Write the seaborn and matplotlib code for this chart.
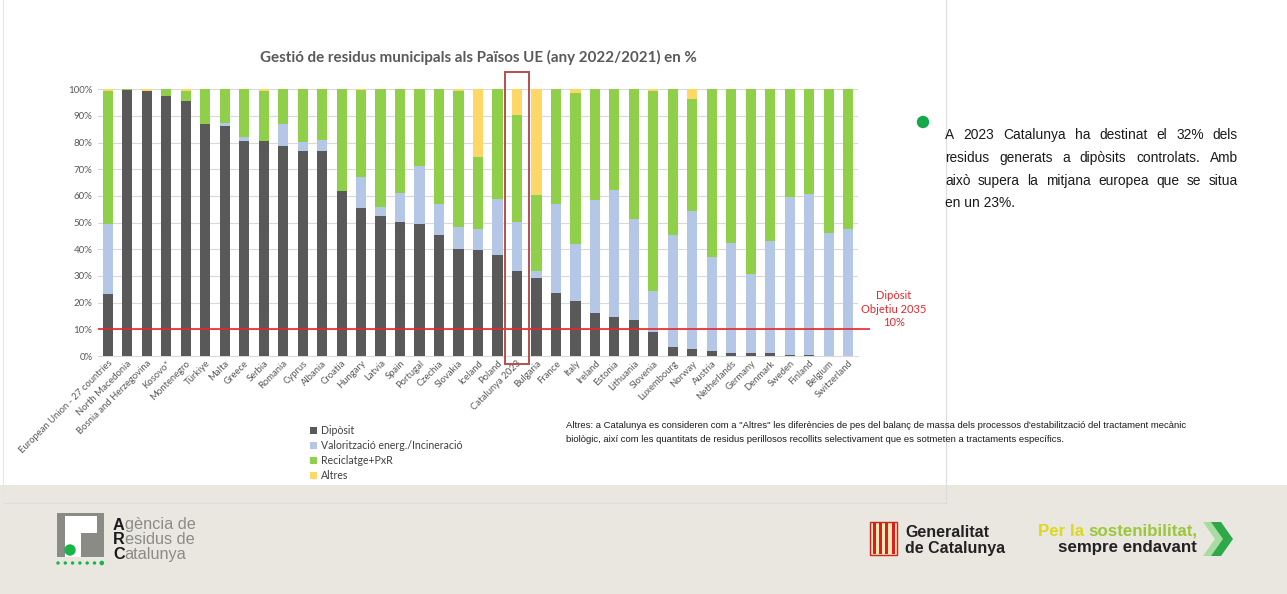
import matplotlib
matplotlib.use("Agg")
import matplotlib.pyplot as plt
from matplotlib.patches import Rectangle, Circle, Polygon
import pandas as pd
import seaborn as sns

# ---------------------------------------------------------------- data
countries = [
    "European Union - 27 countries", "North Macedonia", "Bosnia and Herzegovina",
    "Kosovo*", "Montenegro", "Türkiye", "Malta", "Greece", "Serbia", "Romania",
    "Cyprus", "Albania", "Croatia", "Hungary", "Latvia", "Spain", "Portugal",
    "Czechia", "Slovakia", "Iceland", "Poland", "Catalunya 2023", "Bulgaria",
    "France", "Italy", "Ireland", "Estonia", "Lithuania", "Slovenia",
    "Luxembourg", "Norway", "Austria", "Netherlands", "Germany", "Denmark",
    "Sweden", "Finland", "Belgium", "Switzerland",
]
diposit = [23.4, 99.9, 99.3, 97.5, 95.5, 86.9, 86.1, 80.8, 80.6, 78.9,
           77.0, 76.8, 61.8, 55.4, 52.4, 50.3, 49.4, 45.4, 40.3, 39.6,
           37.9, 32.0, 29.1, 23.8, 20.8, 16.0, 14.6, 13.5, 9.0, 3.4,
           2.8, 1.8, 1.0, 1.0, 1.0, 0.5, 0.3, 0.1, 0.0]
valoritzacio = [26.1, 0.0, 0.0, 0.0, 0.0, 0.0, 1.3, 1.4, 0.0, 8.0,
                3.3, 4.3, 0.0, 11.8, 3.5, 11.0, 22.0, 11.7, 8.1, 8.1,
                21.1, 18.1, 2.6, 33.1, 21.2, 42.5, 47.8, 37.8, 15.3, 42.0,
                51.5, 35.3, 41.3, 29.8, 42.1, 59.1, 60.5, 46.2, 47.6]
reciclatge = [49.7, 0.1, 0.0, 2.5, 4.0, 13.1, 12.6, 17.8, 18.8, 13.1,
              19.7, 18.9, 38.2, 32.6, 44.1, 38.7, 28.6, 42.9, 50.8, 26.8,
              41.0, 40.3, 28.5, 43.1, 56.8, 41.5, 37.6, 48.7, 75.0, 54.6,
              42.0, 62.9, 57.7, 69.2, 56.9, 40.4, 39.2, 53.7, 52.4]
altres = [0.8, 0.0, 0.7, 0.0, 0.5, 0.0, 0.0, 0.0, 0.6, 0.0,
          0.0, 0.0, 0.0, 0.2, 0.0, 0.0, 0.0, 0.0, 0.8, 25.5,
          0.0, 9.6, 39.8, 0.0, 1.2, 0.0, 0.0, 0.0, 0.7, 0.0,
          3.7, 0.0, 0.0, 0.0, 0.0, 0.0, 0.0, 0.0, 0.0]

series_names = ["Dipòsit", "Valorització energ./Incineració", "Reciclatge+PxR", "Altres"]
series_colors = ["#595959", "#b4c7e7", "#8fcf4a", "#ffd766"]
objective = 10
highlight = "Catalunya 2023"

title = "Gestió de residus municipals als Països UE (any 2022/2021) en %"
note_lines = [
    "Altres: a Catalunya es consideren com a \"Altres\" les diferències de pes del balanç de massa "
    "dels processos d'estabilització del tractament mecànic",
    "biològic, així com les quantitats de residus perillosos recollits selectivament que es "
    "sotmeten a tractaments específics.",
]
side_lines = [
    "A 2023 Catalunya ha destinat el 32% dels",
    "residus generats a dipòsits controlats. Amb",
    "això supera la mitjana europea que se situa",
    "en un 23%.",
]

df = pd.DataFrame({"country": countries, "d": diposit, "v": valoritzacio,
                   "r": reciclatge, "a": altres})

# ---------------------------------------------------------------- figure
W, H = 1287, 594
fig = plt.figure(figsize=(W / 100, H / 100), dpi=100)
fig.patch.set_facecolor("white")

# pixel-space canvas for page decoration
bg = fig.add_axes([0, 0, 1, 1], zorder=0)
bg.set_xlim(0, W)
bg.set_ylim(H, 0)
bg.axis("off")

bg.add_patch(Rectangle((0, 485), W, H - 485, facecolor="#e9e7e0", edgecolor="none"))
bg.plot([946, 946], [0, 503], color="#dcdcdc", lw=0.8)
bg.plot([3, 946], [503, 503], color="#dcdcdc", lw=0.8)
bg.plot([3, 3], [0, 503], color="#e6e6e6", lw=0.8)

# ---------------------------------------------------------------- chart
left, right, top, bottom = 98, 858, 89.3, 356
ax = fig.add_axes([left / W, 1 - bottom / H, (right - left) / W, (bottom - top) / H], zorder=2)
ax.patch.set_alpha(0)

cum = [0] * len(countries)
stacks = []
for vals in [diposit, valoritzacio, reciclatge, altres]:
    cum = [c + v for c, v in zip(cum, vals)]
    stacks.append(list(cum))

# draw tallest stack first so each lower segment sits on top of it
for name, col, tot in reversed(list(zip(series_names, series_colors, stacks))):
    sns.barplot(x=countries, y=tot, color=col, width=0.52, ax=ax, label=name,
                saturation=1, linewidth=0, zorder=3)

ax.set_ylim(0, 100)
ax.set_xlim(-0.5, len(countries) - 0.5)
ax.set_yticks(range(0, 101, 10))
ax.set_yticklabels([f"{t}%" for t in range(0, 101, 10)])
for t in range(10, 101, 10):
    ax.axhline(t, color="#d9d9d9", lw=0.8, zorder=1)
sns.despine(ax=ax, left=True, top=True, right=True)
ax.spines["bottom"].set_color("#d9d9d9")
ax.tick_params(axis="both", length=0, labelsize=7, labelcolor="#595959")
ax.tick_params(axis="y", pad=4)
ax.tick_params(axis="x", pad=2)
ax.set_xticks(range(len(countries)))
ax.set_xticklabels(countries, rotation=45, ha="right", rotation_mode="anchor",
                   family="Lato", fontsize=6.8)
for lab in ax.get_yticklabels():
    lab.set_family("Lato")
ax.set_xlabel("")
ax.set_ylabel("")
if ax.get_legend():
    ax.get_legend().remove()

# objective line
ax.hlines(objective, -0.5, 39.1, color="#e8262b", lw=1.2, zorder=4, clip_on=False)
ax.text(40.34, 17.6, "Dipòsit\nObjetiu 2035\n10%", color="#e8262b", fontsize=8,
        family="Lato", ha="center", va="center", linespacing=1.3, clip_on=False)

# highlight frame
hi = countries.index(highlight)
ax.add_patch(Rectangle((hi - 0.6, -3.0), 1.2, 109.5, fill=False, edgecolor="#b5504c",
                       lw=1.4, clip_on=False, zorder=5))

# title
fig.text(478 / W, 1 - 57 / H, title, ha="center", va="center", fontsize=10.9,
         fontweight="bold", color="#595959", family="Lato")

# legend
handles, labels = ax.get_legend_handles_labels()
order = {n: i for i, n in enumerate(series_names)}
pairs = sorted(zip(handles, labels), key=lambda p: order[p[1]])
fig.legend([p[0] for p in pairs], [p[1] for p in pairs], loc="upper left",
           bbox_to_anchor=(302 / W, 1 - 417 / H), frameon=False,
           handlelength=0.6, handleheight=0.6, handletextpad=0.4, labelspacing=0.38,
           borderpad=0.3, prop={"family": "Lato", "size": 7.6}, labelcolor="#404040")

# ---------------------------------------------------------------- texts
fig.canvas.draw()
renderer = fig.canvas.get_renderer()


def text_width(t):
    return t.get_window_extent(renderer=renderer).width


def justify(words, x0, x1, y, **kw):
    objs = [bg.text(0, y, w, va="baseline", ha="left", **kw) for w in words]
    widths = [text_width(o) for o in objs]
    gap = (x1 - x0 - sum(widths)) / max(len(words) - 1, 1)
    x = x0
    for o, w in zip(objs, widths):
        o.set_x(x)
        x += w + gap


body = "Liberation Sans"
bg.add_patch(Circle((923, 122), 5.5, color="#13a84a"))
for i, line in enumerate(side_lines):
    y = 139 + i * 22.8
    if i < len(side_lines) - 1:
        justify(line.split(" "), 945, 1238, y, fontsize=9.9, family=body, color="#1a1a1a")
    else:
        bg.text(945, y, line, va="baseline", ha="left", fontsize=9.9, family=body,
                color="#1a1a1a")

for i, line in enumerate(note_lines):
    bg.text(566, 427.5 + i * 14, line, va="baseline", ha="left", fontsize=6.8,
            family=body, color="#1a1a1a")

# ---------------------------------------------------------------- footer marks
# ARC logo
bg.add_patch(Rectangle((57, 513), 47, 44, facecolor="#8b8b86", edgecolor="none"))
bg.add_patch(Rectangle((65, 516), 16, 41, facecolor="white", edgecolor="none"))
bg.add_patch(Rectangle((81, 516), 16, 17, facecolor="white", edgecolor="none"))
bg.add_patch(Circle((70, 550), 5, color="#18b54a"))
for k in range(7):
    r = 1.0 if k < 6 else 1.6
    bg.add_patch(Circle((58 + k * 7.3, 563), r, color="#18b54a"))

for i, word in enumerate(["Agència de", "Residus de", "Catalunya"]):
    y = 529.5 + i * 14.6
    first = bg.text(113, y, word[0], va="baseline", ha="left", fontsize=11.7,
                    family="Liberation Sans", fontweight="bold", color="#1a1a1a")
    w = text_width(first)
    bg.text(113 + w, y, word[1:], va="baseline", ha="left", fontsize=11.7,
            family="Liberation Sans", color="#8b8b86")

# Generalitat emblem
bg.add_patch(Rectangle((870, 522), 27, 33, facecolor="#f6e7b4", edgecolor="#d81e1e", lw=1.0))
for k in range(4):
    bg.add_patch(Rectangle((873 + k * 6.2, 523), 3.0, 31, facecolor="#d81e1e", edgecolor="none"))
bg.text(905, 537, "Generalitat", va="baseline", ha="left", fontsize=11.5,
        family="Liberation Sans", fontweight="bold", color="#222222")
bg.text(905, 553, "de Catalunya", va="baseline", ha="left", fontsize=11.5,
        family="Liberation Sans", fontweight="bold", color="#222222")

# slogan
p2 = bg.text(1197, 536, "sostenibilitat,", va="baseline", ha="right", fontsize=12.2,
             family="Liberation Sans", fontweight="bold", color="#9cc63c")
w2 = text_width(p2)
bg.text(1197 - w2 - 3.5, 536, "Per la", va="baseline", ha="right", fontsize=12.2,
        family="Liberation Sans", fontweight="bold", color="#dcd820")
bg.text(1197, 552, "sempre endavant", va="baseline", ha="right", fontsize=12.2,
        family="Liberation Sans", fontweight="bold", color="#222222")
bg.add_patch(Polygon([(1203, 522), (1213, 522), (1225, 539), (1213, 556), (1203, 556),
                      (1215, 539)], closed=True, facecolor="#a8dca0", edgecolor="none"))
bg.add_patch(Polygon([(1211, 522), (1221, 522), (1233, 539), (1221, 556), (1211, 556),
                      (1223, 539)], closed=True, facecolor="#2fa84a", edgecolor="none"))

fig.savefig("out.png", dpi=100)
